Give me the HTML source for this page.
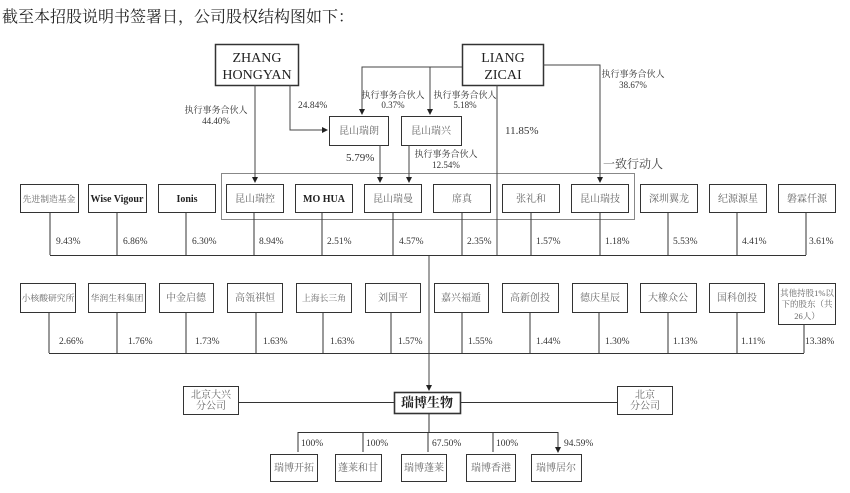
<!DOCTYPE html>
<html><head><meta charset="utf-8"><style>
html,body{margin:0;padding:0;background:#fff;width:850px;height:493px;overflow:hidden}
svg{display:block}
text{font-family:"Liberation Serif","Noto Serif CJK SC",serif;}
.t{font-size:10px;fill:#666;text-anchor:middle}
.s{font-size:8.8px}
.p{font-size:9.5px;fill:#333}
.q{font-size:9px}
.b{font-size:10px;fill:#222;text-anchor:middle;font-weight:bold}
</style></head><body>
<svg width="850" height="493" viewBox="0 0 850 493" xmlns="http://www.w3.org/2000/svg">
<defs><marker id="a" markerWidth="6" markerHeight="6" refX="5" refY="3" orient="auto" markerUnits="userSpaceOnUse"><path d="M0,0 L6,3 L0,6 z" fill="#222"/></marker></defs>
<text x="2" y="22" style="font-size:16px;fill:#222">截至本招股说明书签署日，公司股权结构图如下：</text>
<g stroke="#333" fill="none" stroke-width="1">
<rect x="215.5" y="44.5" width="83" height="41" stroke-width="1.5"/>
<rect x="462.5" y="44.5" width="81" height="41" stroke-width="1.5"/>
<rect x="221.5" y="173.5" width="413" height="46" stroke="#888"/>
<rect x="329.5" y="116.5" width="59" height="29"/>
<rect x="401.5" y="116.5" width="60" height="29"/>
</g>
<g fill="none" stroke="#444" stroke-width="1">
<path d="M255,85 V182" marker-end="url(#a)"/>
<path d="M290,85 V130 H327" marker-end="url(#a)"/>
<path d="M462,67 H362 V114" marker-end="url(#a)"/>
<path d="M430,67 V114" marker-end="url(#a)"/>
<path d="M543,65 H600 V182" marker-end="url(#a)"/>
<path d="M380,145 V182" marker-end="url(#a)"/>
<path d="M409,145 V182" marker-end="url(#a)"/>
<path d="M497,85 V255"/>
<path d="M429,255 V390" marker-end="url(#a)"/>
</g>
<g class="b" style="font-size:14px;font-weight:normal;fill:#222">
<text x="257" y="62" text-anchor="middle">ZHANG</text><text x="257" y="79" text-anchor="middle">HONGYAN</text>
<text x="503" y="62" text-anchor="middle">LIANG</text><text x="503" y="79" text-anchor="middle">ZICAI</text>
</g>
<text class="t" x="359" y="134">昆山瑞朗</text>
<text class="t" x="431" y="134">昆山瑞兴</text>
<g class="p q" text-anchor="middle">
<text x="216" y="113">执行事务合伙人</text><text x="216" y="124">44.40%</text>
<text x="393" y="98">执行事务合伙人</text><text x="393" y="108">0.37%</text>
<text x="465" y="98">执行事务合伙人</text><text x="465" y="108">5.18%</text>
<text x="633" y="77">执行事务合伙人</text><text x="633" y="88">38.67%</text>
<text x="446" y="157">执行事务合伙人</text><text x="446" y="168">12.54%</text>
</g>
<text class="p" x="298" y="108">24.84%</text>
<text class="p" x="346" y="161" style="font-size:11px">5.79%</text>
<text class="p" x="505" y="134" style="font-size:11px">11.85%</text>
<text x="603" y="168" style="font-size:12px;fill:#444">一致行动人</text>
<g fill="none" stroke="#333">
<rect x="20.5" y="184.5" width="58" height="28"/><rect x="88.5" y="184.5" width="58" height="28"/><rect x="158.5" y="184.5" width="57" height="28"/><rect x="226.5" y="184.5" width="57" height="28"/><rect x="295.5" y="184.5" width="57" height="28"/><rect x="364.5" y="184.5" width="57" height="28"/><rect x="433.5" y="184.5" width="57" height="28"/><rect x="502.5" y="184.5" width="57" height="28"/><rect x="571.5" y="184.5" width="57" height="28"/><rect x="640.5" y="184.5" width="57" height="28"/><rect x="709.5" y="184.5" width="57" height="28"/><rect x="778.5" y="184.5" width="57" height="28"/>
<path d="M50,212V255M117,212V255M186,212V255M254,212V255M322,212V255M393,212V255M462,212V255M531,212V255M600,212V255M668,212V255M737,212V255M806,212V255M50,255.5H806" stroke="#333"/>
<rect x="20.5" y="283.5" width="55" height="29"/><rect x="88.5" y="283.5" width="57" height="29"/><rect x="159.5" y="283.5" width="54" height="29"/><rect x="227.5" y="283.5" width="55" height="29"/><rect x="296.5" y="283.5" width="55" height="29"/><rect x="365.5" y="283.5" width="55" height="29"/><rect x="434.5" y="283.5" width="54" height="29"/><rect x="502.5" y="283.5" width="56" height="29"/><rect x="572.5" y="283.5" width="55" height="29"/><rect x="640.5" y="283.5" width="56" height="29"/><rect x="709.5" y="283.5" width="55" height="29"/><rect x="778.5" y="283.5" width="57" height="41"/>
<path d="M49,312V353M117,312V353M186,312V353M256,312V353M323,312V353M391,312V353M462,312V353M530,312V353M599,312V353M668,312V353M737,312V353M804,325V353M49,353.5H804"/>
</g>
<g class="t">
<text x="49" y="202" class="s">先进制造基金</text><text x="117" y="202" style="fill:#222;font-weight:bold">Wise Vigour</text><text x="187" y="202" style="fill:#222;font-weight:bold">Ionis</text><text x="255" y="202">昆山瑞控</text><text x="324" y="202" style="fill:#222;font-weight:bold">MO HUA</text><text x="393" y="202">昆山瑞曼</text><text x="462" y="202">席真</text><text x="531" y="202">张礼和</text><text x="600" y="202">昆山瑞技</text><text x="669" y="202">深圳翼龙</text><text x="738" y="202">纪源源星</text><text x="807" y="202">磐霖仟源</text>
<text x="48" y="301" class="s">小核酸研究所</text><text x="117" y="301" class="s">华润生科集团</text><text x="186" y="301">中金启德</text><text x="255" y="301">高瓴祺恒</text><text x="324" y="301" class="s">上海长三角</text><text x="393" y="301">刘国平</text><text x="461" y="301">嘉兴福遁</text><text x="530" y="301">高新创投</text><text x="600" y="301">德庆星辰</text><text x="668" y="301">大橡众公</text><text x="737" y="301">国科创投</text>
<text x="807" y="296" style="font-size:8.5px">其他持股1%以</text><text x="807" y="307" style="font-size:8.5px">下的股东（共</text><text x="807" y="319" style="font-size:8.5px">26人）</text>
</g>
<g class="p">
<text x="56" y="244">9.43%</text><text x="123" y="244">6.86%</text><text x="192" y="244">6.30%</text><text x="259" y="244">8.94%</text><text x="327" y="244">2.51%</text><text x="399" y="244">4.57%</text><text x="467" y="244">2.35%</text><text x="536" y="244">1.57%</text><text x="605" y="244">1.18%</text><text x="673" y="244">5.53%</text><text x="742" y="244">4.41%</text><text x="809" y="244">3.61%</text>
<text x="59" y="344">2.66%</text><text x="128" y="344">1.76%</text><text x="195" y="344">1.73%</text><text x="263" y="344">1.63%</text><text x="330" y="344">1.63%</text><text x="398" y="344">1.57%</text><text x="468" y="344">1.55%</text><text x="536" y="344">1.44%</text><text x="605" y="344">1.30%</text><text x="673" y="344">1.13%</text><text x="741" y="344">1.11%</text><text x="805" y="344">13.38%</text>
</g>
<g fill="none" stroke="#333">
<rect x="183.5" y="386.5" width="55" height="28"/><rect x="617.5" y="386.5" width="55" height="28"/>
<rect x="394.5" y="392.5" width="66" height="21" stroke-width="1.6"/>
<path d="M238,402.5H394M460,402.5H617M429,413V432M298,432.5H558"/>
<path d="M298,432V452M363,432V452M428,432V452M493,432V452M558,432V452" marker-end="url(#a)"/>
<rect x="270.5" y="454.5" width="47" height="27"/><rect x="335.5" y="454.5" width="46" height="27"/><rect x="401.5" y="454.5" width="45" height="27"/><rect x="466.5" y="454.5" width="49" height="27"/><rect x="531.5" y="454.5" width="50" height="27"/>
</g>
<g class="t">
<text x="211" y="398">北京大兴</text><text x="211" y="409">分公司</text>
<text x="645" y="398">北京</text><text x="645" y="409">分公司</text>
<text x="294" y="471">瑞博开拓</text><text x="358" y="471">蓬莱和甘</text><text x="424" y="471">瑞博蓬莱</text><text x="491" y="471">瑞博香港</text><text x="556" y="471">瑞博居尔</text>
</g>
<text class="b" x="427" y="407" style="font-size:13px">瑞博生物</text>
<g class="p">
<text x="301" y="446">100%</text><text x="366" y="446">100%</text><text x="432" y="446">67.50%</text><text x="496" y="446">100%</text><text x="564" y="446">94.59%</text>
</g>
</svg>
</body></html>
